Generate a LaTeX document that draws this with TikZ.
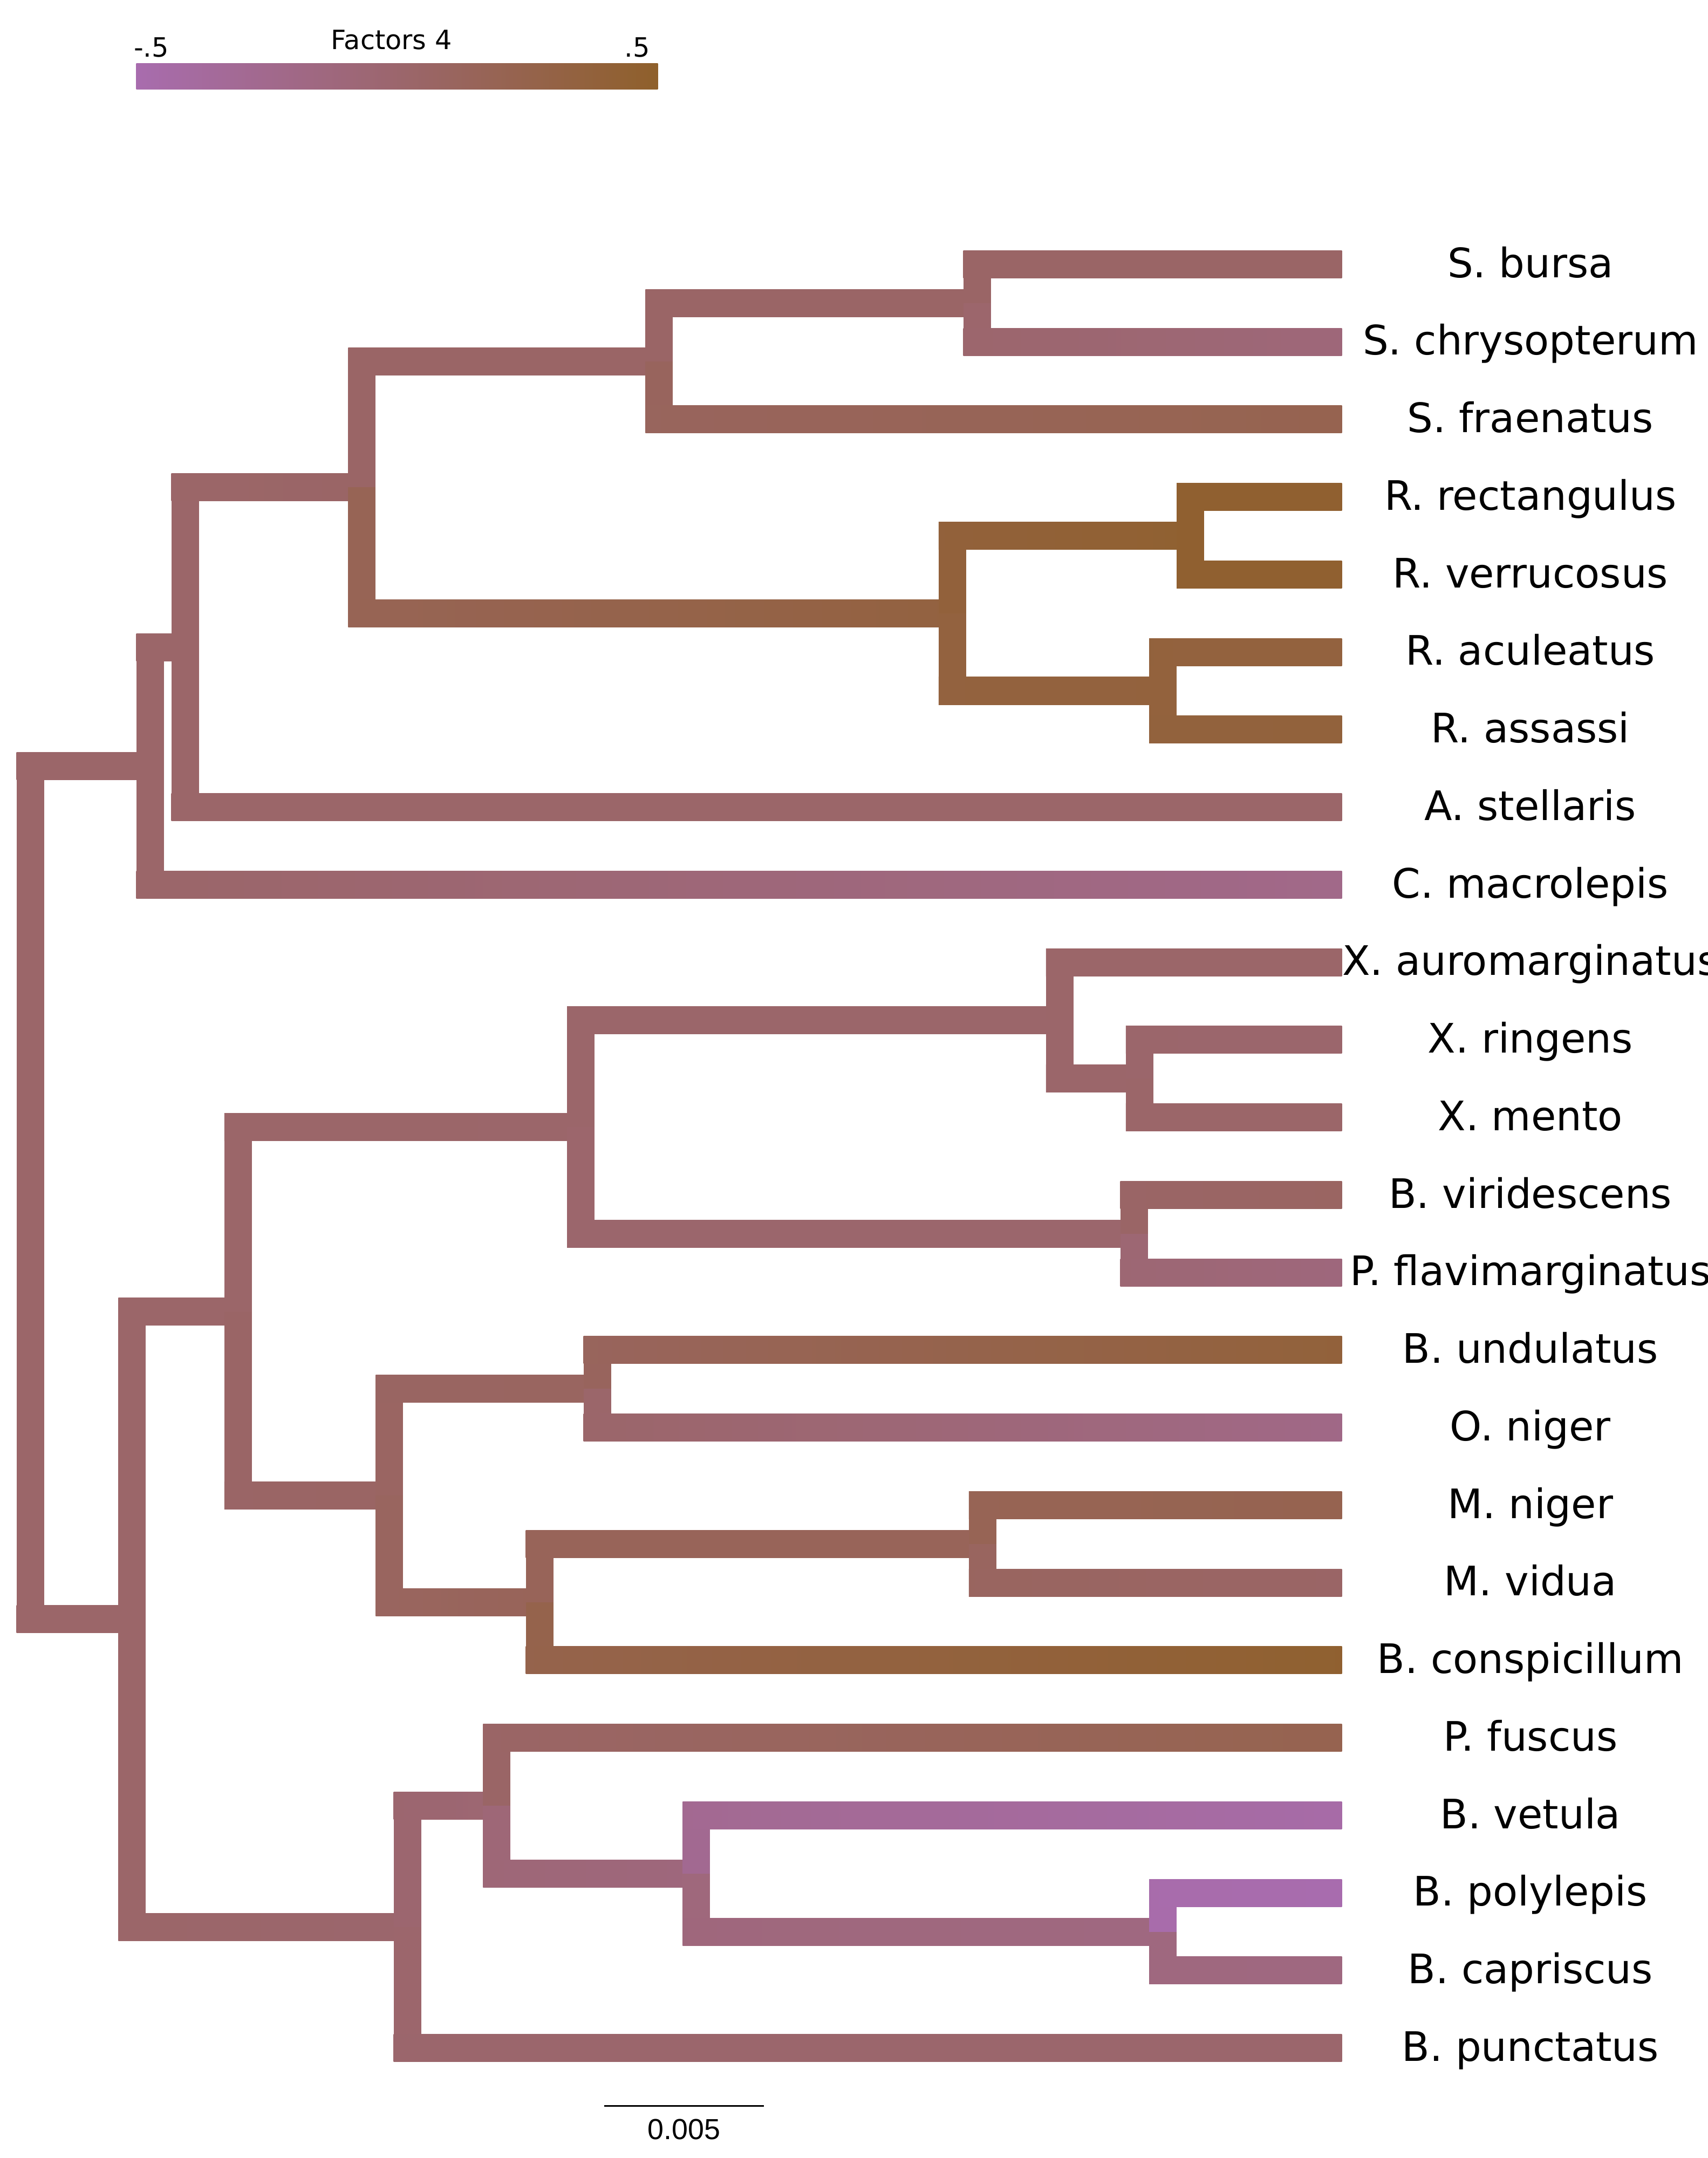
\documentclass[tikz,border=0pt]{standalone}
\usepackage{fontspec}
\setmainfont{DejaVu Sans}
\newfontfamily\scalebarfont{Liberation Sans}
\usetikzlibrary{calc}

\definecolor{pur}{RGB}{168,108,174}
\definecolor{brn}{RGB}{143,96,43}

\newlength{\brw}
\setlength{\brw}{0.2cm}
\newcommand{\branch}[4]{%
  \fill[brn!#3!pur] let \p1=(#1), \p2=(#2) in (\x1-\brw,\y1) rectangle (\x1+\brw,\y2);
  \shade[left color=brn!#3!pur, right color=brn!#4!pur] let \p1=(#1), \p2=(#2) in (\x1-\brw,\y2-\brw) rectangle (\x2,\y2+\brw);
}

\begin{document}
\begin{tikzpicture}[
    x=0.02cm, y=-0.02cm,
    taxon/.style={anchor=base, inner sep=0pt, font=\fontsize{16.8}{20}\selectfont},
    legendtxt/.style={anchor=base, inner sep=0pt, font=\fontsize{11}{13}\selectfont},
    cbar/.style={left color=pur, right color=brn, minimum width=7.58cm, minimum height=0.38cm, inner sep=0pt},
    scaletxt/.style={anchor=base, inner sep=0pt, font=\scalebarfont\fontsize{12}{14}\selectfont}
]
\useasboundingbox (0,0) rectangle (1241,1568);

\node[cbar] (fbar) at (288.5,55.5) {};
\node[legendtxt] (lminus) at (110,41.5) {-.5};
\node[legendtxt] (ltitle) at (284.5,36) {Factors 4};
\node[legendtxt] (lplus) at (463,41.5) {.5};

\coordinate (nRoot) at (22,866.45);
\coordinate (nU1) at (109,556.5);
\coordinate (nU2) at (134.5,470.25);
\coordinate (nSR) at (263,354.0);
\coordinate (nS) at (479,262.45);
\coordinate (nSbc) at (710,220.2);
\coordinate (nR) at (692,445.6);
\coordinate (nRrv) at (865,389.25);
\coordinate (nRaa) at (845,501.95);
\coordinate (nL) at (96,1176.4);
\coordinate (nM) at (173,952.75);
\coordinate (nX) at (422,818.9);
\coordinate (nXa) at (770,741.45);
\coordinate (nXrm) at (828,783.7);
\coordinate (nBP) at (824,896.4);
\coordinate (nO) at (283,1086.6);
\coordinate (nBuO) at (434,1009.1);
\coordinate (nMB) at (392,1164.05);
\coordinate (nMM) at (714,1121.8);
\coordinate (nB) at (296,1400.05);
\coordinate (nPf) at (361,1312.0);
\coordinate (nBv) at (506,1361.3);
\coordinate (nBpc) at (845,1403.55);

\coordinate (tBursa) at (975,192.0);
\coordinate (tChrysopterum) at (975,248.4);
\coordinate (tFraenatus) at (975,304.7);
\coordinate (tRectangulus) at (975,361.1);
\coordinate (tVerrucosus) at (975,417.4);
\coordinate (tAculeatus) at (975,473.8);
\coordinate (tAssassi) at (975,530.1);
\coordinate (tStellaris) at (975,586.5);
\coordinate (tMacrolepis) at (975,642.8);
\coordinate (tAuromarginatus) at (975,699.2);
\coordinate (tRingens) at (975,755.5);
\coordinate (tMento) at (975,811.9);
\coordinate (tViridescens) at (975,868.2);
\coordinate (tFlavimarginatus) at (975,924.6);
\coordinate (tUndulatus) at (975,980.9);
\coordinate (tOniger) at (975,1037.3);
\coordinate (tMniger) at (975,1093.6);
\coordinate (tVidua) at (975,1150.0);
\coordinate (tConspicillum) at (975,1206.3);
\coordinate (tFuscus) at (975,1262.7);
\coordinate (tVetula) at (975,1319.0);
\coordinate (tPolylepis) at (975,1375.4);
\coordinate (tCapriscus) at (975,1431.7);
\coordinate (tPunctatus) at (975,1488.1);

\branch{nRoot}{nU1}{53}{53}
\branch{nRoot}{nL}{53}{53}
\branch{nU1}{nU2}{53}{53}
\branch{nU1}{tMacrolepis}{53}{28}
\branch{nU2}{nSR}{53}{55}
\branch{nU2}{tStellaris}{53}{53}
\branch{nSR}{nS}{55}{55}
\branch{nSR}{nR}{68}{84}
\branch{nS}{nSbc}{55}{55}
\branch{nS}{tFraenatus}{62}{72}
\branch{nSbc}{tBursa}{55}{55}
\branch{nSbc}{tChrysopterum}{50}{40}
\branch{nR}{nRrv}{88}{95}
\branch{nR}{nRaa}{85}{86}
\branch{nRrv}{tRectangulus}{96}{96}
\branch{nRrv}{tVerrucosus}{96}{96}
\branch{nRaa}{tAculeatus}{86}{85}
\branch{nRaa}{tAssassi}{86}{87}
\branch{nL}{nM}{53}{53}
\branch{nL}{nB}{53}{50}
\branch{nM}{nX}{53}{52}
\branch{nM}{nO}{55}{57}
\branch{nX}{nXa}{52}{52}
\branch{nX}{nBP}{50}{50}
\branch{nXa}{tAuromarginatus}{53}{53}
\branch{nXa}{nXrm}{52}{52}
\branch{nXrm}{tRingens}{51}{50}
\branch{nXrm}{tMento}{53}{53}
\branch{nBP}{tViridescens}{55}{58}
\branch{nBP}{tFlavimarginatus}{45}{38}
\branch{nO}{nBuO}{58}{60}
\branch{nO}{nMB}{60}{65}
\branch{nBuO}{tUndulatus}{62}{88}
\branch{nBuO}{tOniger}{52}{30}
\branch{nMB}{nMM}{65}{65}
\branch{nMB}{tConspicillum}{75}{96}
\branch{nMM}{tMniger}{68}{72}
\branch{nMM}{tVidua}{60}{55}
\branch{nB}{nPf}{48}{45}
\branch{nB}{tPunctatus}{50}{50}
\branch{nPf}{tFuscus}{55}{72}
\branch{nPf}{nBv}{42}{38}
\branch{nBv}{tVetula}{22}{5}
\branch{nBv}{nBpc}{38}{35}
\branch{nBpc}{tPolylepis}{2}{0}
\branch{nBpc}{tCapriscus}{36}{35}

\node[taxon] (lBursa) at (1112,201.5) {S. bursa};
\node[taxon] (lChrysopterum) at (1112,257.9) {S. chrysopterum};
\node[taxon] (lFraenatus) at (1112,314.2) {S. fraenatus};
\node[taxon] (lRectangulus) at (1112,370.6) {R. rectangulus};
\node[taxon] (lVerrucosus) at (1112,426.9) {R. verrucosus};
\node[taxon] (lAculeatus) at (1112,483.3) {R. aculeatus};
\node[taxon] (lAssassi) at (1112,539.6) {R. assassi};
\node[taxon] (lStellaris) at (1112,596.0) {A. stellaris};
\node[taxon] (lMacrolepis) at (1112,652.3) {C. macrolepis};
\node[taxon] (lAuromarginatus) at (1112,708.7) {X. auromarginatus};
\node[taxon] (lRingens) at (1112,765.0) {X. ringens};
\node[taxon] (lMento) at (1112,821.4) {X. mento};
\node[taxon] (lViridescens) at (1112,877.7) {B. viridescens};
\node[taxon] (lFlavimarginatus) at (1112,934.1) {P. flavimarginatus};
\node[taxon] (lUndulatus) at (1112,990.4) {B. undulatus};
\node[taxon] (lOniger) at (1112,1046.8) {O. niger};
\node[taxon] (lMniger) at (1112,1103.1) {M. niger};
\node[taxon] (lVidua) at (1112,1159.5) {M. vidua};
\node[taxon] (lConspicillum) at (1112,1215.8) {B. conspicillum};
\node[taxon] (lFuscus) at (1112,1272.2) {P. fuscus};
\node[taxon] (lVetula) at (1112,1328.5) {B. vetula};
\node[taxon] (lPolylepis) at (1112,1384.9) {B. polylepis};
\node[taxon] (lCapriscus) at (1112,1441.2) {B. capriscus};
\node[taxon] (lPunctatus) at (1112,1497.6) {B. punctatus};

\coordinate (sbL) at (439,1530);
\coordinate (sbR) at (555,1530);
\draw[line width=0.7pt] (sbL) -- (sbR);
\node[scaletxt] (lScale) at (497,1554.5) {0.005};
\end{tikzpicture}
\end{document}
